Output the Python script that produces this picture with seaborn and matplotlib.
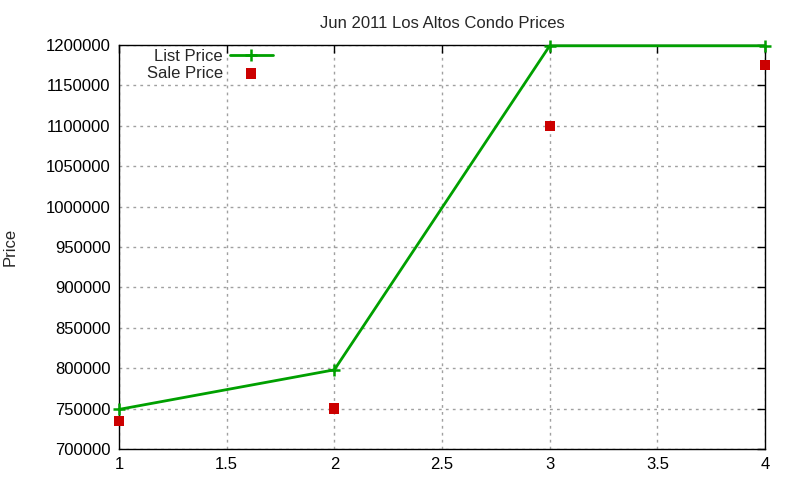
import matplotlib
matplotlib.use("Agg")
import matplotlib.pyplot as plt
import seaborn as sns
import pandas as pd

#? Data
months = [1, 2, 3, 4]
list_price = [749000, 798000, 1199000, 1199000]
sale_price = [735000, 750000, 1100000, 1175000]

df = pd.DataFrame({"x": months, "List Price": list_price, "Sale Price": sale_price})

sns.set_style("white")
plt.rcParams["font.family"] = ["Liberation Sans", "DejaVu Sans"]
plt.rcParams["font.size"] = 12

fig = plt.figure(figsize=(8, 4.8), dpi=100)
ax = fig.add_axes([119 / 800, 1 - 449 / 480, (765 - 119) / 800, (449 - 45) / 480])

sns.lineplot(data=df, x="x", y="List Price", ax=ax, color="#00a000", linewidth=2,
             marker="+", markersize=8, markeredgewidth=1.8,
             markeredgecolor="#00a000", label="List Price", clip_on=False, zorder=3)
sns.scatterplot(data=df, x="x", y="Sale Price", ax=ax, color="#cc0000", marker="s",
                s=55, edgecolor="none", label="Sale Price", zorder=4, clip_on=False)

#? Axes setup (gnuplot look)
ax.set_xlim(1, 4)
ax.set_ylim(700000, 1200000)
ax.set_xticks([1, 1.5, 2, 2.5, 3, 3.5, 4])
ax.set_xticklabels(["1", "1.5", "2", "2.5", "3", "3.5", "4"])
ax.set_yticks(range(700000, 1200001, 50000))
ax.set_yticklabels([str(v) for v in range(700000, 1200001, 50000)])
ax.tick_params(direction="in", length=6, width=1, top=True, right=True,
               labelsize=12, colors="black", pad=6)
ax.grid(True, linestyle=(0, (2, 3)), color="#a0a0a0", linewidth=1)
for s in ax.spines.values():
    s.set_color("black")
    s.set_linewidth(1)

ax.set_xlabel("")
ax.set_ylabel("Price", fontsize=12, labelpad=20)
ax.set_title("Jun 2011 Los Altos Condo Prices", fontsize=12, pad=12)

ax.legend(loc="upper left", markerfirst=False, frameon=False, fontsize=12,
          handlelength=2.6, handletextpad=0.4, borderaxespad=0.1,
          labelspacing=0.1, bbox_to_anchor=(0.03, 1.01))

fig.savefig("out.png", dpi=100)
